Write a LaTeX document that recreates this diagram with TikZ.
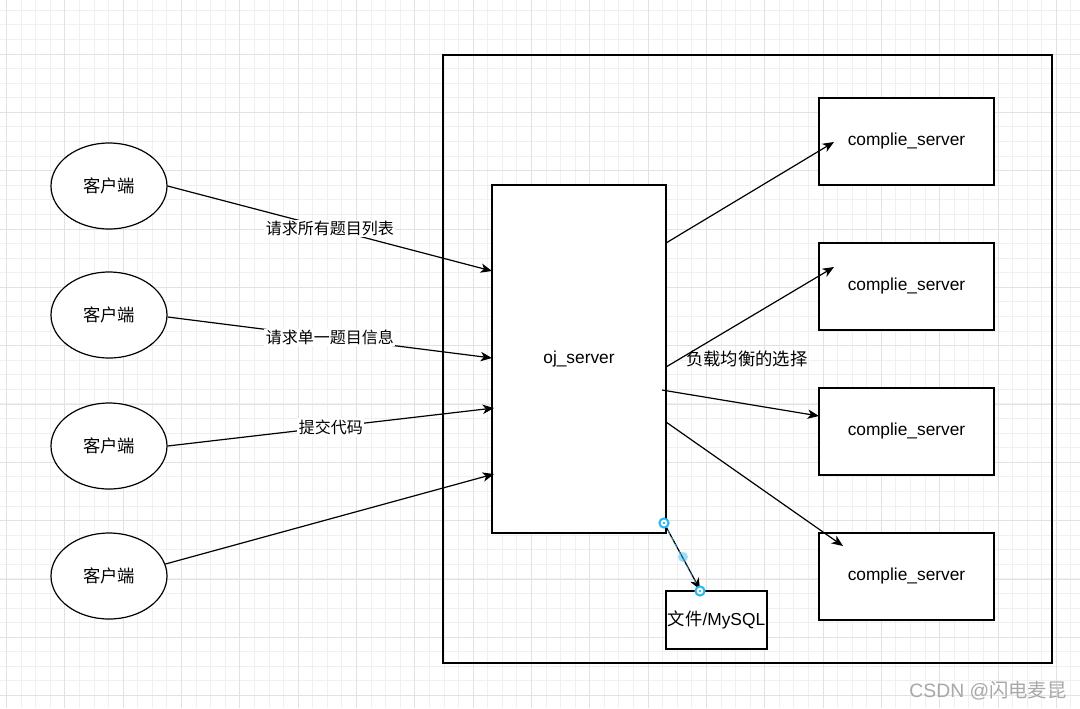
\documentclass[tikz,border=0pt]{standalone}
\usepackage{fontspec}
\setmainfont{Liberation Sans}
\newfontfamily\cjk{Noto Sans CJK SC}
\usetikzlibrary{arrows.meta,shapes.geometric}
\definecolor{gridminor}{HTML}{F0F0F0}
\definecolor{gridmajor}{HTML}{E2E2E2}
\definecolor{handle}{HTML}{29B6F2}
\definecolor{wmark}{HTML}{A8A8A8}
\tikzset{
  vfont/.style={font=\fontsize{13}{15}\selectfont},
  client/.style={ellipse, draw, line width=0.9pt, fill=white, inner sep=0pt,
    minimum width={116*0.75pt}, minimum height={86*0.75pt}, vfont},
  box/.style={rectangle, draw, line width=0.9pt, fill=white, inner sep=0pt},
  conn/.style={line width=0.9pt, -{Stealth[length=8.5pt,width=7pt,inset=2.4pt]}},
  elabel/.style={fill=white, inner sep=1pt, font=\cjk\fontsize{12}{14}\selectfont},
  hdl/.style={circle, fill=handle, inner sep=0pt, minimum size=8.5pt},
}
\begin{document}
\begin{tikzpicture}[x=0.75pt,y=-0.75pt]
\useasboundingbox (0,0) rectangle (1080,708);
\fill[white] (0,0) rectangle (1080,708);
% grid
\foreach \i in {0,...,74}{\draw[gridminor, line width=0.75pt] ({6.6+14.58*\i},0) -- ({6.6+14.58*\i},708);}
\foreach \i in {0,...,48}{\draw[gridminor, line width=0.75pt] (0,{10.3+14.58*\i}) -- (1080,{10.3+14.58*\i});}
\foreach \i in {0,...,18}{\draw[gridmajor, line width=0.75pt] ({6.6+58.33*\i},0) -- ({6.6+58.33*\i},708);}
\foreach \i in {0,...,12}{\draw[gridmajor, line width=0.75pt] (0,{-4.3+58.33*\i}) -- (1080,{-4.3+58.33*\i});}

% outer frame (transparent)
\node[draw, line width=0.9pt, inner sep=0pt, minimum width={609*0.75pt}, minimum height={608*0.75pt}] (outer) at (747.5,359) {};

% clients
\node[client] (c1) at (109,186) {\cjk 客户端};
\node[client] (c2) at (109,315) {\cjk 客户端};
\node[client] (c3) at (109,446) {\cjk 客户端};
\node[client] (c4) at (109,576) {\cjk 客户端};

% oj server
\node[box, minimum width={174*0.75pt}, minimum height={348*0.75pt}, vfont] (oj) at (579,359) {oj\_server};

% compile servers
\foreach \n/\y in {1/141.5, 2/286.5, 3/431.5, 4/576.5}{
  \node[box, minimum width={175*0.75pt}, minimum height={87*0.75pt}, vfont] (s\n) at (906.5,\y) {\raisebox{-1pt}{complie\_server}};
}

% storage
\node[box, minimum width={101*0.75pt}, minimum height={58*0.75pt}, vfont] (db) at (716.5,620) {{\cjk 文件}/MySQL};

% connector end points
\coordinate (e1) at (492,271);
\coordinate (e2) at (492,358);
\coordinate (e3) at (494,408);
\coordinate (e4) at (494,474);
\coordinate (r1s) at (666,243);
\coordinate (r2s) at (666,367);
\coordinate (r3s) at (662,390);
\coordinate (r4s) at (666,422);
\coordinate (r1e) at (834,142);
\coordinate (r2e) at (834,267);
\coordinate (r3e) at (819,416);
\coordinate (r4e) at (843,546);
\coordinate (ds) at (664,523);
\coordinate (de) at (700,591);

% client -> oj
\draw[conn] (c1.east) -- node[elabel] (l1) {请求所有题目列表} (e1);
\draw[conn] ([yshift=-1.5pt]c2.east) -- node[elabel] (l2) {请求单一题目信息} (e2);
\draw[conn] (c3.east) -- node[elabel] (l3) {提交代码} (e3);
\draw[conn] (c4.12) -- (e4);

% oj -> compile servers
\draw[conn] (r1s) -- (r1e);
\draw[conn] (r2s) -- (r2e);
\draw[conn] (r3s) -- (r3e);
\draw[conn] (r4s) -- (r4e);
\node[anchor=west, vfont, inner sep=0pt] (lb) at (686,359) {\cjk 负载均衡的选择};

% oj -> storage (selected edge)
\draw[conn] (ds) -- ([yshift=1pt]de);
\draw[handle, line width=0.6pt, dash pattern=on 3pt off 3pt, opacity=0.8] (ds) -- (de);
\node[circle, fill=handle, opacity=0.45, inner sep=0pt, minimum size=7.5pt] (hm) at (683,557) {};
\node[hdl] (h1) at (ds) {};
\node[circle, fill=white, inner sep=0pt, minimum size=5pt] (h1w) at (ds) {};
\node[circle, fill=handle, inner sep=0pt, minimum size=2.2pt] (h1c) at (ds) {};
\node[hdl] (h2) at (de) {};
\node[circle, fill=white, inner sep=0pt, minimum size=5pt] (h2w) at (de) {};
\node[circle, fill=handle, inner sep=0pt, minimum size=2.2pt] (h2c) at (de) {};

% watermark
\node[text=wmark, font=\fontsize{14.5}{16}\selectfont, inner sep=0pt] (wm) at (988,691) {CSDN @{\cjk 闪电麦昆}};
\end{tikzpicture}
\end{document}
